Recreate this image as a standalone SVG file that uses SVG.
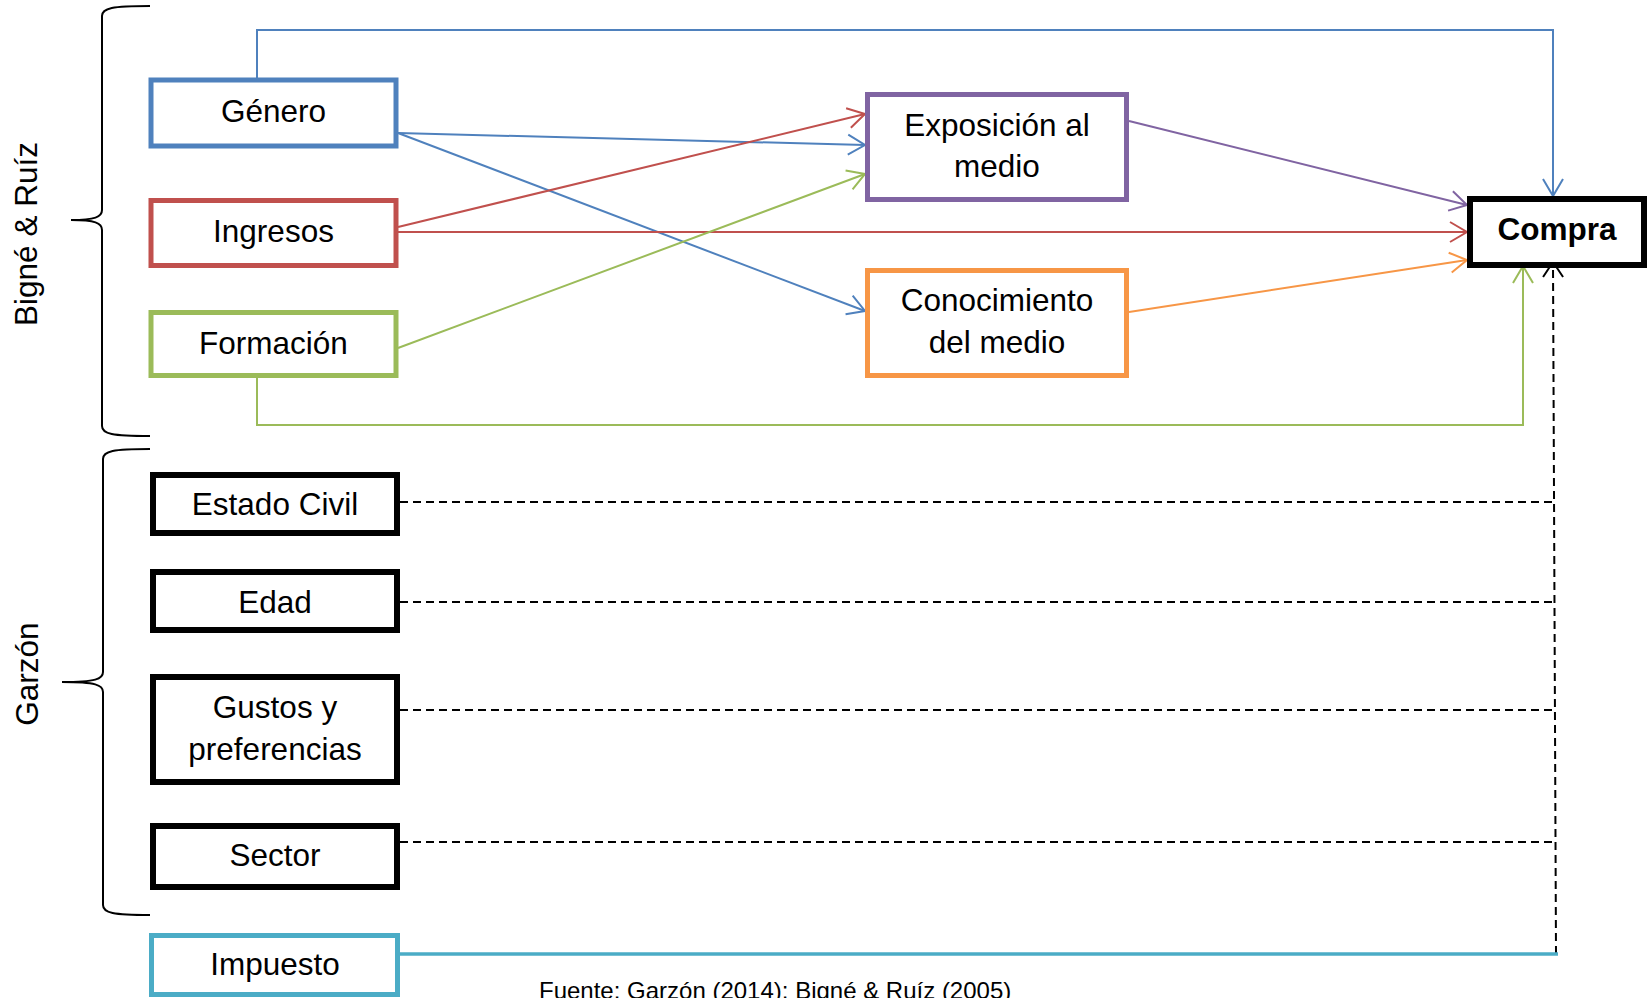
<svg xmlns="http://www.w3.org/2000/svg" width="1647" height="998" viewBox="0 0 1647 998">
<style>
  .t { font-family: "Liberation Sans", Arial, sans-serif; font-size: 31.5px; fill: #000; text-anchor: middle; }
  .b { font-weight: bold; }
  .box { fill: #fff; }
  .c { fill: none; stroke-width: 2; }
  .dash { fill: none; stroke: #000; stroke-width: 2; stroke-dasharray: 8 5; }
  .brace { fill: none; stroke: #000; stroke-width: 2; }
  .foot { font-family: "Liberation Sans", Arial, sans-serif; font-size: 24px; fill: #000; }
</style>
<defs>
  <marker id="mBlue" markerUnits="userSpaceOnUse" markerWidth="30" markerHeight="30" refX="0" refY="0" orient="auto" style="overflow:visible"><path d="M-17,-10 L0,0 L-17,10" fill="none" stroke="#4F81BD" stroke-width="2"/></marker>
  <marker id="mRed" markerUnits="userSpaceOnUse" markerWidth="30" markerHeight="30" refX="0" refY="0" orient="auto" style="overflow:visible"><path d="M-17,-10 L0,0 L-17,10" fill="none" stroke="#C0504D" stroke-width="2"/></marker>
  <marker id="mGreen" markerUnits="userSpaceOnUse" markerWidth="30" markerHeight="30" refX="0" refY="0" orient="auto" style="overflow:visible"><path d="M-17,-10 L0,0 L-17,10" fill="none" stroke="#9BBB59" stroke-width="2"/></marker>
  <marker id="mPurple" markerUnits="userSpaceOnUse" markerWidth="30" markerHeight="30" refX="0" refY="0" orient="auto" style="overflow:visible"><path d="M-17,-10 L0,0 L-17,10" fill="none" stroke="#8064A2" stroke-width="2"/></marker>
  <marker id="mOrange" markerUnits="userSpaceOnUse" markerWidth="30" markerHeight="30" refX="0" refY="0" orient="auto" style="overflow:visible"><path d="M-17,-10 L0,0 L-17,10" fill="none" stroke="#F79646" stroke-width="2"/></marker>
  <marker id="mBlack" markerUnits="userSpaceOnUse" markerWidth="30" markerHeight="30" refX="0" refY="0" orient="auto" style="overflow:visible"><path d="M-15,-10 L0,0 L-15,10" fill="none" stroke="#000" stroke-width="2"/></marker>
</defs>
<rect width="1647" height="998" fill="#fff"/>

<g id="braces">
  <path class="brace" d="M150,6 C112,6 102,8 102,16 L102,210 C102,217 95,220 71,220 C95,220 102,223 102,230 L102,426 C102,434 112,436 150,436"/>
  <path class="brace" d="M150,449 C113,449 103,451 103,459 L103,672 C103,679 96,682 62,682 C96,682 103,685 103,692 L103,905 C103,913 113,915 150,915"/>
  <text class="t" transform="translate(37,234) rotate(-90)">Bigné &amp; Ruíz</text>
  <text class="t" transform="translate(38,674) rotate(-90)">Garzón</text>
</g>

<g id="connectors">
  <path class="c" stroke="#4F81BD" d="M257,78 V30 H1553 V196" marker-end="url(#mBlue)"/>
  <line class="c" stroke="#4F81BD" x1="398" y1="133" x2="865" y2="145" marker-end="url(#mBlue)"/>
  <line class="c" stroke="#4F81BD" x1="398" y1="133" x2="865" y2="311" marker-end="url(#mBlue)"/>
  <line class="c" stroke="#C0504D" x1="398" y1="227" x2="865" y2="114" marker-end="url(#mRed)"/>
  <line class="c" stroke="#C0504D" x1="398" y1="232" x2="1467" y2="232" marker-end="url(#mRed)"/>
  <line class="c" stroke="#9BBB59" x1="398" y1="348" x2="865" y2="174" marker-end="url(#mGreen)"/>
  <path class="c" stroke="#9BBB59" d="M257,378 V425 H1523 V266" marker-end="url(#mGreen)"/>
  <line class="c" stroke="#8064A2" x1="1129" y1="121" x2="1467" y2="205" marker-end="url(#mPurple)"/>
  <line class="c" stroke="#F79646" x1="1129" y1="312" x2="1467" y2="260" marker-end="url(#mOrange)"/>
  <line class="dash" x1="400" y1="502" x2="1554" y2="502"/>
  <line class="dash" x1="400" y1="602" x2="1554" y2="602"/>
  <line class="dash" x1="400" y1="710" x2="1555" y2="710"/>
  <line class="dash" x1="400" y1="842" x2="1555" y2="842"/>
  <line class="dash" x1="1556" y1="954" x2="1553" y2="262" marker-end="url(#mBlack)"/>
  <line stroke="#4BACC6" stroke-width="3.5" x1="398" y1="954" x2="1558" y2="954"/>
</g>

<g id="genero"><rect class="box" x="151" y="80" width="245" height="66" stroke="#4F81BD" stroke-width="5"/><text class="t" x="273.5" y="122">Género</text></g>
<g id="ingresos"><rect class="box" x="151" y="200.5" width="245" height="65" stroke="#C0504D" stroke-width="5"/><text class="t" x="273.5" y="242">Ingresos</text></g>
<g id="formacion"><rect class="box" x="151" y="312.5" width="245" height="63" stroke="#9BBB59" stroke-width="5"/><text class="t" x="273.5" y="354">Formación</text></g>
<g id="exposicion"><rect class="box" x="867.5" y="94.5" width="259" height="105" stroke="#8064A2" stroke-width="5"/><text class="t" x="997" y="136">Exposición al</text><text class="t" x="997" y="177">medio</text></g>
<g id="conocimiento"><rect class="box" x="867.5" y="270.5" width="259" height="105" stroke="#F79646" stroke-width="5"/><text class="t" x="997" y="311">Conocimiento</text><text class="t" x="997" y="353">del medio</text></g>
<g id="compra"><rect class="box" x="1470" y="199" width="174" height="66" stroke="#000" stroke-width="6"/><text class="t b" x="1557" y="240">Compra</text></g>
<g id="estado-civil"><rect class="box" x="153" y="475" width="244" height="58" stroke="#000" stroke-width="6"/><text class="t" x="275" y="515">Estado Civil</text></g>
<g id="edad"><rect class="box" x="153" y="572" width="244" height="58" stroke="#000" stroke-width="6"/><text class="t" x="275" y="613">Edad</text></g>
<g id="gustos"><rect class="box" x="153" y="677" width="244" height="105" stroke="#000" stroke-width="6"/><text class="t" x="275" y="718">Gustos y</text><text class="t" x="275" y="760">preferencias</text></g>
<g id="sector"><rect class="box" x="153" y="826" width="244" height="61" stroke="#000" stroke-width="6"/><text class="t" x="275" y="866">Sector</text></g>
<g id="impuesto"><rect class="box" x="151.5" y="935.5" width="246" height="59" stroke="#4BACC6" stroke-width="5"/><text class="t" x="275" y="975">Impuesto</text></g>

<text class="foot" x="539" y="999">Fuente: Garzón (2014); Bigné &amp; Ruíz (2005)</text>
</svg>
